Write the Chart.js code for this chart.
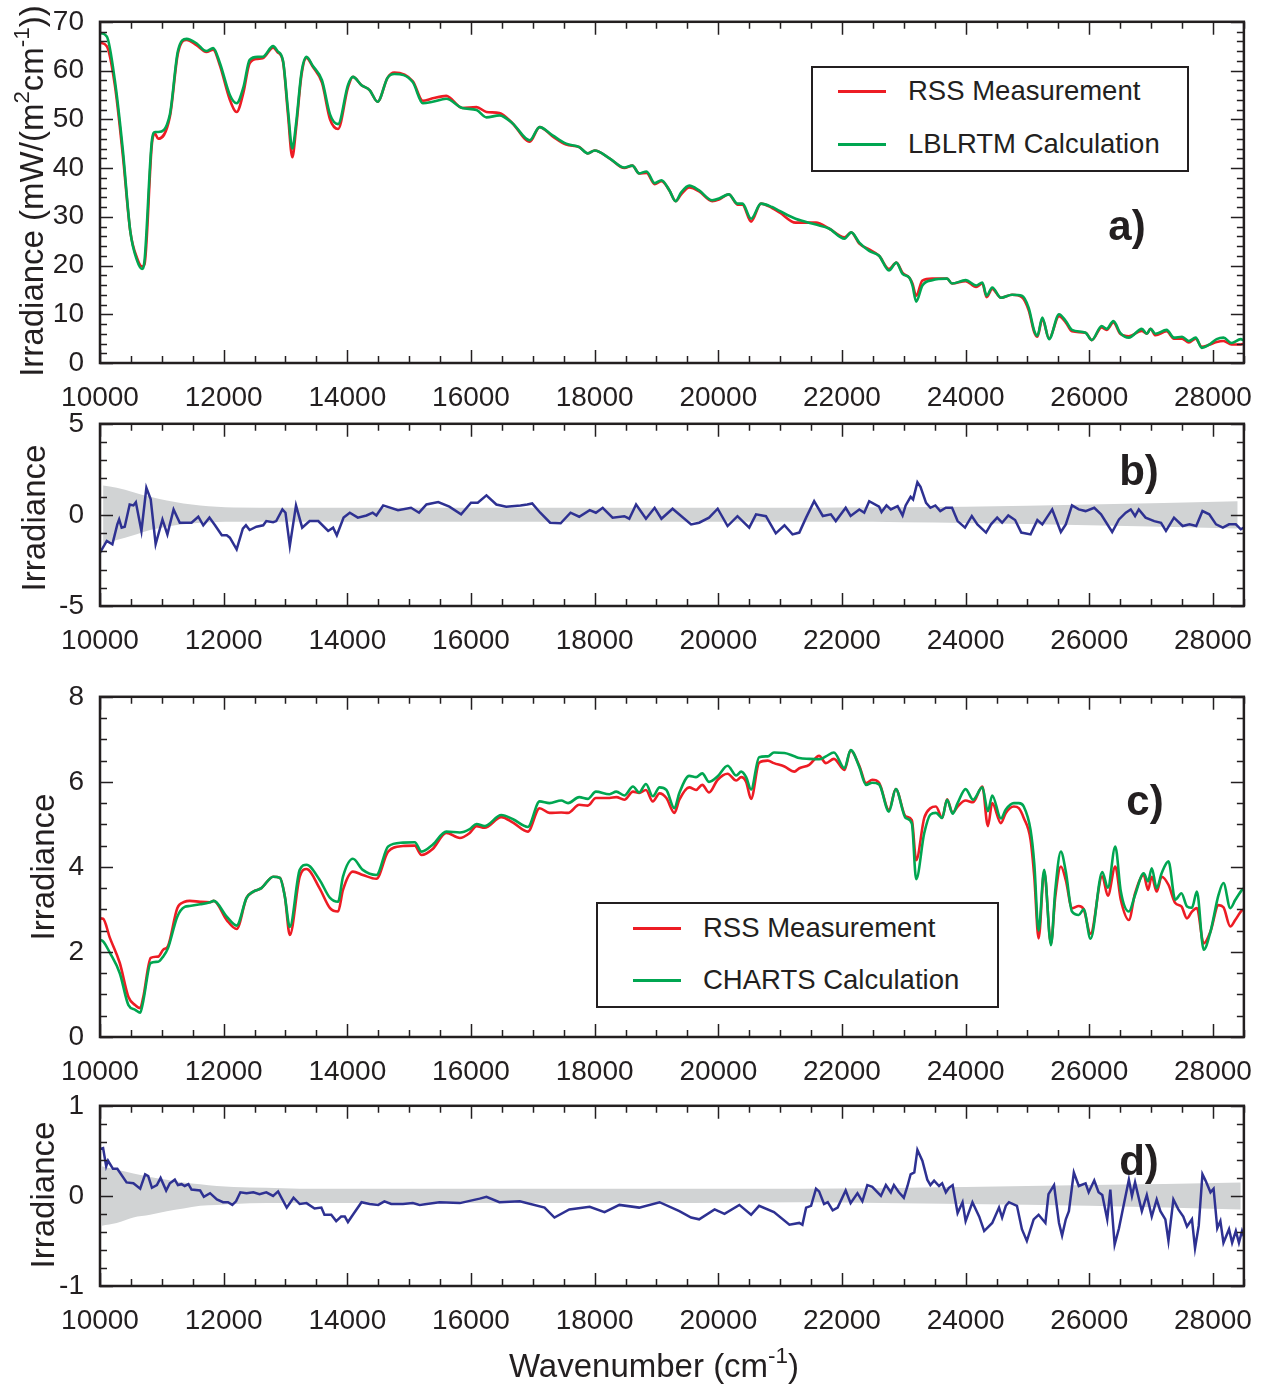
<!DOCTYPE html>
<html>
<head>
<meta charset="utf-8">
<title>RSS irradiance compared with LBLRTM and CHARTS</title>
<script src="https://cdn.jsdelivr.net/npm/chart.js@4.4.1/dist/chart.umd.min.js"></script>
<style>
  html, body { margin: 0; padding: 0; background: #fff; }
  #page { position: relative; width: 1263px; height: 1384px; overflow: hidden;
          font-family: 'Liberation Sans', Arial, Helvetica, sans-serif; color: #231f20; }
  canvas { position: absolute; left: 0; }
  .ytitle { position: absolute; white-space: nowrap; font-size: 33px; line-height: 1;
            transform: translate(-50%, -50%) rotate(-90deg); }
  .xtitle { position: absolute; white-space: nowrap; font-size: 33px; line-height: 1;
            transform: translate(-50%, -50%); }
  sup { font-size: 0.68em; line-height: 0; vertical-align: 0.62em; }
  .tag { position: absolute; font-weight: bold; font-size: 42px; line-height: 1;
         transform: translate(-50%, -50%); }
  .legend { position: absolute; border: 2px solid #231f20; box-sizing: border-box; background: #fff; }
  .legend .row { position: absolute; left: 0; right: 0; height: 30px; line-height: 30px; font-size: 27.5px; }
  .legend .swatch { position: absolute; top: 14px; width: 48px; height: 2.5px; }
  .legend .label { position: absolute; white-space: nowrap; }
</style>
</head>
<body>
<div id="page">
  <canvas id="chartA" width="1263" height="423" style="top:0px"></canvas>
  <canvas id="chartB" width="1263" height="258" style="top:404px"></canvas>
  <canvas id="chartC" width="1263" height="420" style="top:677px"></canvas>
  <canvas id="chartD" width="1263" height="260" style="top:1086px"></canvas>

  <div class="ytitle" style="left:31px; top:191px">Irradiance (mW/(m<sup>2</sup>cm<sup>-1</sup>))</div>
  <div class="ytitle" style="left:33px; top:518px">Irradiance</div>
  <div class="ytitle" style="left:42px; top:867px">Irradiance</div>
  <div class="ytitle" style="left:42px; top:1195px">Irradiance</div>
  <div class="xtitle" style="left:654px; top:1365px">Wavenumber (cm<sup>-1</sup>)</div>

  <div class="tag" style="left:1127px; top:226px">a)</div>
  <div class="tag" style="left:1139px; top:471px">b)</div>
  <div class="tag" style="left:1145px; top:801px">c)</div>
  <div class="tag" style="left:1139px; top:1161px">d)</div>

  <div class="legend" style="left:811px; top:66px; width:378px; height:106px">
    <div class="row" style="top:8px"><span class="swatch" style="left:25px; background:#ed1c24"></span><span class="label" style="left:95px">RSS Measurement</span></div>
    <div class="row" style="top:61px"><span class="swatch" style="left:25px; background:#00a651"></span><span class="label" style="left:95px">LBLRTM Calculation</span></div>
  </div>
  <div class="legend" style="left:596px; top:902px; width:403px; height:106px">
    <div class="row" style="top:9px"><span class="swatch" style="left:35px; background:#ed1c24"></span><span class="label" style="left:105px">RSS Measurement</span></div>
    <div class="row" style="top:61px"><span class="swatch" style="left:35px; background:#00a651"></span><span class="label" style="left:105px">CHARTS Calculation</span></div>
  </div>
</div>

<script>
// ---- x axis (shared by all panels) ----
const xMin = 10000, xMax = 28500;
const xTickLabels = [10000, 12000, 14000, 16000, 18000, 20000, 22000, 24000, 26000, 28000];

// ---- panel a: irradiance, RSS vs LBLRTM ----
const wnA = [10000, 10110, 10240, 10370, 10490, 10600, 10680, 10720, 10840, 10890, 10940, 11130,
  11260, 11400, 11560, 11720, 11830, 11940, 12100, 12210, 12320, 12420, 12550, 12630,
  12800, 12870, 12960, 13040, 13110, 13170, 13260, 13340, 13440, 13590, 13720, 13850,
  14010, 14090, 14230, 14360, 14490, 14650, 14760, 15060, 15220, 15380, 15600, 15860,
  16090, 16250, 16460, 16670, 16950, 17110, 17320, 17540, 17750, 17890, 18000, 18240,
  18480, 18610, 18720, 18840, 18970, 19080, 19210, 19310, 19400, 19530, 19690, 19900,
  20020, 20170, 20310, 20390, 20530, 20690, 20870, 20990, 21250, 21580, 21790, 22040,
  22150, 22280, 22440, 22600, 22760, 22880, 22980, 23090, 23140, 23200, 23300, 23460,
  23700, 23780, 24000, 24170, 24270, 24340, 24430, 24570, 24750, 24910, 25020, 25110,
  25160, 25240, 25350, 25510, 25620, 25720, 25940, 26040, 26200, 26280, 26390, 26500,
  26640, 26850, 26930, 26990, 27070, 27250, 27370, 27500, 27610, 27720, 27820, 27930,
  28060, 28170, 28300, 28450, 28500];
const rssA = [65.7, 65, 57, 42.5, 27, 21.5, 19.8, 20.3, 45, 47, 46, 50.5,
  63.5, 66.3, 65.2, 63.8, 64.3, 61, 54, 51.5, 55.5, 61.5, 62.4, 62.5,
  64.7, 63.8, 61.8, 51, 42.2, 48, 59.2, 62.6, 60.8, 57.5, 50, 48,
  56.5, 58.7, 57, 56, 53.6, 58.5, 59.6, 57.8, 53.8, 54.3, 54.8, 52.3,
  52.5, 51.5, 51.3, 49.2, 45.4, 48.4, 46.5, 44.8, 44.3, 43, 43.6, 42,
  40, 40.5, 38.9, 39, 36.7, 37.3, 35.4, 33.2, 34.6, 36, 35.2, 33.2,
  33.6, 34.6, 32.5, 32.5, 29, 32.7, 31.8, 30.9, 28.8, 28.8, 27.6, 25.8,
  26.8, 24.5, 23.3, 22, 19.3, 20.6, 18.5, 17.5, 16.3, 13.8, 16.9, 17.3,
  17.3, 16.3, 16.8, 15.6, 16.3, 13.5, 15.2, 13.4, 14, 13.5, 10.8, 6.3,
  5.4, 9, 5, 9.6, 8.3, 6.5, 6.2, 4.7, 7.3, 6.8, 8.3, 6,
  5.5, 6.6, 6, 7, 5.7, 6.5, 5, 5, 4.2, 5, 3.3, 3.7,
  4.3, 4.5, 3.8, 3.8, 4];
const lblrtmA = [67.7, 67, 58, 43.6, 27, 21, 19.3, 21, 45.7, 47.4, 47.4, 51,
  64, 66.5, 65.6, 64, 64.6, 61.5, 55, 53.3, 56.6, 62.2, 62.8, 62.8,
  65, 64, 62, 52, 44, 49, 59.7, 62.8, 61, 58, 51, 49,
  57, 58.7, 57, 56, 53.6, 58.5, 59.3, 57.6, 53.3, 53.6, 54.2, 52.3,
  51.9, 50.4, 50.8, 49.2, 45.7, 48.4, 46.7, 45, 44.3, 43, 43.6, 42,
  40.1, 40.5, 38.9, 39.3, 36.9, 37.5, 35.4, 33.2, 35, 36.4, 35.4, 33.4,
  33.8, 34.6, 32.7, 32.7, 29.6, 32.7, 32, 31.2, 29.6, 28.4, 27.6, 25.5,
  26.8, 24.7, 23, 22, 19, 20.6, 18.3, 17.5, 15.9, 12.6, 15.9, 17,
  17.3, 16.3, 17, 15.9, 16.5, 13.8, 15.5, 13.4, 14, 13.8, 11.3, 6.6,
  5.6, 9.3, 4.9, 10, 8.6, 6.8, 6.2, 4.7, 7.6, 7, 8.6, 6.2,
  5.2, 7, 6, 7, 6, 6.8, 5.2, 5.4, 4.5, 5.2, 3.1, 3.7,
  4.9, 5.2, 4.1, 4.9, 4.6];
const yTicksA = [0, 10, 20, 30, 40, 50, 60, 70];

// ---- panel b: difference RSS - LBLRTM with uncertainty band ----
const wnB = [10000, 10110, 10200, 10280, 10310, 10350, 10400, 10480, 10540, 10580, 10670, 10750,
  10820, 10900, 11010, 11090, 11190, 11290, 11400, 11480, 11590, 11670, 11770, 11860,
  11970, 12050, 12100, 12210, 12310, 12360, 12420, 12530, 12640, 12690, 12800, 12850,
  12950, 13000, 13070, 13170, 13270, 13390, 13530, 13690, 13770, 13830, 13940, 14040,
  14170, 14310, 14410, 14470, 14580, 14820, 15030, 15160, 15280, 15470, 15650, 15840,
  16000, 16110, 16250, 16410, 16570, 16800, 16910, 16990, 17120, 17280, 17450, 17610,
  17750, 17920, 18020, 18130, 18290, 18480, 18560, 18670, 18830, 18970, 19080, 19260,
  19560, 19690, 19850, 19990, 20150, 20310, 20500, 20610, 20770, 20930, 21070, 21200,
  21310, 21420, 21550, 21690, 21820, 21900, 22060, 22140, 22280, 22360, 22440, 22600,
  22640, 22720, 22790, 22900, 22980, 23030, 23110, 23150, 23220, 23270, 23360, 23430,
  23510, 23590, 23680, 23780, 23870, 23990, 24100, 24190, 24330, 24410, 24510, 24590,
  24690, 24800, 24900, 25050, 25160, 25240, 25400, 25540, 25620, 25720, 25830, 25940,
  26080, 26190, 26370, 26480, 26590, 26670, 26740, 26800, 26910, 27050, 27160, 27240,
  27370, 27510, 27620, 27730, 27830, 27940, 28050, 28160, 28260, 28370, 28450, 28500];
const diffB = [-2.07, -1.43, -1.61, -0.52, -0.25, -0.7, -0.65, 0.57, 0.52, 0.7, -0.88, 1.49,
  0.85, -1.61, -0.25, -1.07, 0.3, -0.43, -0.43, -0.43, -0.1, -0.57, -0.15, -0.57,
  -1.12, -1.12, -1.25, -1.89, -0.75, -0.57, -0.83, -0.65, -0.57, -0.34, -0.4, -0.34,
  0.3, 0.12, -1.7, 0.52, -0.7, -0.34, -0.34, -0.88, -0.7, -1.12, -0.15, 0.12,
  -0.15, -0.03, 0.12, -0.03, 0.52, 0.26, 0.39, 0.12, 0.57, 0.7, 0.45, 0.03,
  0.67, 0.67, 1.07, 0.57, 0.45, 0.52, 0.57, 0.63, 0.12, -0.43, -0.46, 0.12,
  -0.1, 0.26, 0.12, 0.39, -0.15, -0.07, -0.21, 0.57, -0.21, 0.39, -0.21, 0.34,
  -0.52, -0.43, -0.15, 0.34, -0.61, -0.07, -0.7, 0.03, -0.07, -1.01, -0.57, -1.07,
  -0.97, -0.15, 0.75, -0.06, 0.03, -0.34, 0.39, -0.06, 0.3, 0.12, 0.75, 0.45,
  0.16, 0.52, 0.3, 0.48, -0.03, 0.52, 0.99, 0.85, 1.79, 1.54, 0.66, 0.39,
  0.52, 0.21, 0.39, 0.39, -0.34, -0.7, -0.06, -0.52, -0.97, -0.52, -0.15, -0.43,
  -0.03, -0.28, -0.97, -1.07, -0.28, -0.52, 0.3, -0.94, -0.52, 0.52, 0.3, 0.21,
  0.39, 0.03, -0.94, -0.25, 0.12, 0.3, -0.06, 0.3, -0.15, -0.34, -0.43, -0.88,
  -0.15, -0.61, -0.52, -0.61, 0.21, 0.03, -0.52, -0.7, -0.52, -0.52, -0.79, -0.7];
const wnBandB = [10050, 10270, 10540, 10810, 11080, 11350, 11620, 11890, 12160, 13000, 15000,
  17000, 19000, 21000, 22000, 24000, 26000, 28400];
const bandBUpper = [1.61, 1.49, 1.25, 0.99, 0.79, 0.63, 0.52, 0.45, 0.41, 0.39, 0.39,
  0.39, 0.39, 0.39, 0.4, 0.45, 0.57, 0.75];
const bandBLower = [-1.61, -1.38, -1.12, -0.83, -0.65, -0.52, -0.43, -0.39, -0.38, -0.38, -0.38,
  -0.38, -0.38, -0.38, -0.38, -0.45, -0.57, -0.75];
const yTicksB = [-5, 0, 5];

// ---- panel c: irradiance, RSS vs CHARTS ----
const wnC = [10000, 10050, 10160, 10320, 10460, 10570, 10650, 10700, 10820, 10940, 11020, 11100,
  11250, 11370, 11450, 11620, 11780, 11840, 12050, 12210, 12370, 12480, 12610, 12800,
  12910, 12990, 13070, 13230, 13340, 13550, 13720, 13850, 13930, 14090, 14250, 14470,
  14660, 14900, 15090, 15200, 15380, 15600, 15820, 15980, 16090, 16220, 16490, 16680,
  16920, 17110, 17270, 17460, 17570, 17750, 17890, 18020, 18240, 18350, 18480, 18620,
  18720, 18830, 18940, 19050, 19160, 19290, 19370, 19530, 19640, 19740, 19850, 19990,
  20150, 20290, 20370, 20450, 20530, 20660, 20800, 20900, 21070, 21230, 21310, 21470,
  21630, 21740, 21870, 22040, 22140, 22280, 22390, 22490, 22600, 22760, 22870, 23030,
  23130, 23200, 23330, 23430, 23520, 23620, 23700, 23790, 23870, 24000, 24120, 24270,
  24360, 24430, 24570, 24650, 24780, 24860, 24940, 25050, 25110, 25180, 25270, 25380,
  25450, 25540, 25620, 25720, 25830, 25910, 26020, 26210, 26300, 26420, 26510, 26640,
  26740, 26880, 26950, 27010, 27090, 27170, 27280, 27390, 27490, 27580, 27660, 27740,
  27850, 27960, 28090, 28170, 28280, 28360, 28470, 28500];
const rssC = [2.79, 2.78, 2.33, 1.74, 0.94, 0.75, 0.68, 0.94, 1.86, 1.89, 2.05, 2.14,
  3.03, 3.18, 3.2, 3.18, 3.17, 3.2, 2.75, 2.54, 3.27, 3.42, 3.5, 3.77,
  3.74, 3.3, 2.4, 3.77, 3.95, 3.5, 3.03, 2.95, 3.46, 3.89, 3.81, 3.72,
  4.36, 4.49, 4.5, 4.28, 4.42, 4.8, 4.68, 4.8, 4.96, 4.92, 5.17, 5.04,
  4.83, 5.38, 5.27, 5.28, 5.27, 5.46, 5.44, 5.62, 5.62, 5.64, 5.58, 5.77,
  5.74, 5.81, 5.54, 5.73, 5.62, 5.27, 5.58, 5.87, 5.81, 5.93, 5.75, 6.05,
  6.19, 6.03, 6.11, 6.0, 5.6, 6.45, 6.5, 6.44, 6.36, 6.24, 6.32, 6.4,
  6.61, 6.44, 6.54, 6.28, 6.74, 6.38, 5.97, 6.05, 5.98, 5.34, 5.83, 5.19,
  5.1, 4.16, 5.15, 5.38, 5.42, 5.15, 5.59, 5.27, 5.42, 5.56, 5.52, 5.89,
  4.96, 5.5, 5.03, 5.27, 5.42, 5.38, 5.15, 4.64, 3.77, 2.32, 3.89, 2.2,
  3.3, 4.01, 3.69, 3.03, 3.08, 3.0, 2.43, 3.78, 3.32, 4.01, 3.22, 2.75,
  3.38, 3.81, 3.46, 3.77, 3.42, 3.77, 3.58, 3.15, 3.07, 2.79, 2.95, 3.03,
  2.2, 2.48, 3.1, 3.05, 2.6, 2.75, 2.98, 3.0];
const chartsC = [2.28, 2.25, 1.98, 1.5, 0.75, 0.64, 0.57, 0.85, 1.74, 1.77, 1.89, 2.09,
  2.83, 3.06, 3.08, 3.12, 3.17, 3.2, 2.83, 2.62, 3.27, 3.42, 3.5, 3.77,
  3.74, 3.3, 2.59, 3.93, 4.05, 3.7, 3.27, 3.18, 3.77, 4.19, 3.93, 3.81,
  4.48, 4.57, 4.58, 4.36, 4.52, 4.83, 4.81, 4.89, 5.01, 4.96, 5.22, 5.12,
  4.94, 5.54, 5.5, 5.56, 5.5, 5.64, 5.6, 5.77, 5.71, 5.77, 5.68, 5.89,
  5.75, 5.95, 5.66, 5.87, 5.81, 5.38, 5.74, 6.14, 6.11, 6.2, 6.0, 6.13,
  6.38, 6.15, 6.24, 6.11, 5.82, 6.58, 6.6, 6.69, 6.68, 6.6, 6.56, 6.54,
  6.53, 6.6, 6.69, 6.32, 6.75, 6.35, 5.93, 5.98, 5.94, 5.3, 5.83, 5.15,
  5.02, 3.71, 4.79, 5.23, 5.27, 5.15, 5.58, 5.25, 5.5, 5.83, 5.58, 5.87,
  5.31, 5.68, 5.14, 5.35, 5.5, 5.5, 5.42, 4.87, 4.08, 2.5, 3.93, 2.16,
  3.46, 4.36, 3.89, 2.95, 2.87, 3.0, 2.31, 3.88, 3.51, 4.48, 3.42, 2.95,
  3.34, 3.85, 3.66, 3.97, 3.5, 3.85, 4.13, 3.23, 3.38, 3.07, 3.04, 3.42,
  2.05, 2.48, 3.34, 3.62, 3.03, 3.22, 3.46, 3.5];
const yTicksC = [0, 2, 4, 6, 8];

// ---- panel d: difference RSS - CHARTS with uncertainty band ----
const wnD = [10000, 10050, 10100, 10130, 10210, 10280, 10430, 10540, 10650, 10730, 10780, 10840,
  10920, 10980, 11070, 11130, 11210, 11260, 11320, 11370, 11430, 11480, 11620, 11680,
  11780, 11890, 11990, 12070, 12140, 12200, 12270, 12370, 12480, 12580, 12690, 12800,
  12880, 13020, 13130, 13230, 13340, 13470, 13580, 13630, 13740, 13820, 13900, 13960,
  14010, 14090, 14230, 14360, 14500, 14600, 14710, 14900, 15060, 15170, 15490, 15820,
  16140, 16250, 16460, 16790, 17190, 17350, 17590, 17920, 18160, 18400, 18720, 19050,
  19370, 19560, 19690, 19940, 20100, 20340, 20530, 20660, 20900, 21150, 21310, 21360,
  21420, 21500, 21580, 21630, 21710, 21770, 21850, 21930, 22060, 22140, 22250, 22330,
  22410, 22490, 22630, 22710, 22790, 22840, 22920, 23000, 23060, 23110, 23170, 23220,
  23300, 23380, 23430, 23490, 23570, 23620, 23680, 23730, 23790, 23870, 23950, 24000,
  24110, 24220, 24300, 24430, 24540, 24590, 24650, 24700, 24830, 24910, 24990, 25100,
  25180, 25290, 25340, 25430, 25510, 25560, 25620, 25670, 25750, 25830, 25940, 25990,
  26080, 26150, 26210, 26290, 26340, 26410, 26480, 26530, 26640, 26690, 26740, 26850,
  26930, 27010, 27090, 27150, 27230, 27280, 27360, 27440, 27520, 27580, 27660, 27710,
  27770, 27830, 27880, 27960, 28010, 28070, 28120, 28170, 28260, 28310, 28370, 28420,
  28470, 28500];
const diffD = [0.52, 0.53, 0.33, 0.39, 0.3, 0.3, 0.15, 0.14, 0.08, 0.24, 0.22, 0.09,
  0.12, 0.2, 0.06, 0.14, 0.18, 0.12, 0.13, 0.11, 0.13, 0.07, 0.06, -0.01,
  0.03, -0.04, -0.07, -0.07, -0.1, -0.06, 0.04, 0.03, 0.04, 0.02, 0.04, 0,
  0.05, -0.13, -0.02, -0.09, -0.08, -0.14, -0.13, -0.21, -0.21, -0.28, -0.23, -0.23,
  -0.29, -0.21, -0.07, -0.09, -0.1, -0.06, -0.09, -0.09, -0.08, -0.1, -0.07, -0.08,
  -0.03, -0.01, -0.07, -0.06, -0.13, -0.24, -0.15, -0.12, -0.18, -0.1, -0.13, -0.07,
  -0.17, -0.24, -0.26, -0.15, -0.2, -0.1, -0.21, -0.11, -0.18, -0.32, -0.3, -0.32,
  -0.13, -0.11, 0.08, 0.05, -0.09, -0.07, -0.16, -0.13, 0.06, -0.08, 0.03, -0.06,
  0.12, 0.1, 0, 0.12, 0.04, 0.12, 0.04, -0.02, 0.11, 0.24, 0.26, 0.51,
  0.39, 0.18, 0.12, 0.17, 0.11, 0.14, 0.04, 0.09, 0.12, -0.19, -0.07, -0.28,
  -0.07, -0.23, -0.39, -0.3, -0.13, -0.24, -0.11, -0.07, -0.11, -0.37, -0.5, -0.26,
  -0.21, -0.3, 0.02, 0.12, -0.3, -0.44, -0.26, -0.17, 0.26, 0.11, 0.14, 0.04,
  0.17, 0.04, 0.01, -0.26, 0.07, -0.54, -0.36, -0.19, 0.18, 0, 0.15, -0.17,
  0.01, -0.23, -0.04, -0.17, -0.26, -0.5, -0.04, -0.15, -0.23, -0.34, -0.26, -0.58,
  -0.33, 0.24, 0.17, 0.04, 0.08, -0.36, -0.28, -0.52, -0.37, -0.52, -0.39, -0.52,
  -0.39, -0.45];
const wnBandD = [10030, 10270, 10540, 10810, 11080, 11350, 11620, 11890, 12160, 12690, 13230,
  16000, 19000, 21310, 24000, 26000, 28450];
const bandDUpper = [0.33, 0.29, 0.25, 0.21, 0.18, 0.15, 0.13, 0.11, 0.1, 0.09, 0.08,
  0.08, 0.08, 0.08, 0.1, 0.12, 0.15];
const bandDLower = [-0.33, -0.3, -0.24, -0.21, -0.17, -0.14, -0.11, -0.1, -0.09, -0.08, -0.08,
  -0.08, -0.08, -0.07, -0.09, -0.11, -0.15];
const yTicksD = [-1, 0, 1];

// ---- look ----
const INK = '#231f20';
const RED = '#ed1c24', GREEN = '#00a651', BLUE = '#2e3192', BAND = '#d1d3d4';
const FONT = "'Liberation Sans', Arial, Helvetica, sans-serif";

const pts = (xs, ys) => xs.map((x, i) => ({ x, y: ys[i] }));

/* frame round the plot plus inward ticks on all four sides */
const frameTicks = {
  id: 'frameTicks',
  afterDatasetsDraw(chart, args, o) {
    const { ctx, chartArea: a, scales: { x, y } } = chart;
    ctx.save();
    ctx.strokeStyle = INK;
    ctx.lineWidth = 1.5;
    ctx.beginPath();
    const nx = Math.round((xMax - xMin) / 500);
    for (let i = 0; i <= nx; i++) {
      const v = xMin + i * 500;
      const px = Math.round(x.getPixelForValue(v)) + 0.5;
      const len = v % 2000 === 0 ? 13 : 7;
      ctx.moveTo(px, a.bottom); ctx.lineTo(px, a.bottom - len);
      ctx.moveTo(px, a.top); ctx.lineTo(px, a.top + len);
    }
    const ny = Math.round((o.max - o.min) / o.minor);
    for (let i = 0; i <= ny; i++) {
      const v = o.min + i * o.minor;
      const r = v / o.major;
      const len = Math.abs(r - Math.round(r)) < 1e-6 ? 13 : 7;
      const py = Math.round(y.getPixelForValue(v)) + 0.5;
      ctx.moveTo(a.left, py); ctx.lineTo(a.left + len, py);
      ctx.moveTo(a.right, py); ctx.lineTo(a.right - len, py);
    }
    ctx.stroke();
    ctx.lineWidth = 2.5;
    ctx.strokeRect(a.left, a.top, a.right - a.left, a.bottom - a.top);
    ctx.restore();
  }
};

function config(datasets, yMin, yMax, yTicks, minor, major, xHeight) {
  return {
    type: 'line',
    data: { datasets },
    plugins: [frameTicks],
    options: {
      responsive: false,
      maintainAspectRatio: false,
      animation: false,
      events: [],
      devicePixelRatio: 1,
      layout: { padding: { top: 4, right: 4, left: 0, bottom: 0 } },
      elements: { point: { radius: 0 } },
      plugins: {
        legend: { display: false },
        tooltip: { enabled: false },
        frameTicks: { min: yMin, max: yMax, minor, major }
      },
      scales: {
        x: {
          type: 'linear', min: xMin, max: xMax,
          grid: { display: false, drawTicks: false }, border: { display: false },
          afterBuildTicks: s => { s.ticks = xTickLabels.map(v => ({ value: v })); },
          afterFit: s => { s.height = xHeight; },
          ticks: { autoSkip: false, maxRotation: 0, padding: 18, color: INK,
                   font: { family: FONT, size: 28 }, callback: v => String(v) }
        },
        y: {
          type: 'linear', min: yMin, max: yMax,
          grid: { display: false, drawTicks: false }, border: { display: false },
          afterBuildTicks: s => { s.ticks = yTicks.map(v => ({ value: v })); },
          afterFit: s => { s.width = 100; },
          ticks: { autoSkip: false, padding: 16, color: INK,
                   font: { family: FONT, size: 28 }, callback: v => String(v) }
        }
      }
    }
  };
}

/* draw once, read where the plot area landed, then size/move the canvas so it sits on the target box */
function build(id, makeCfg, box) {
  const canvas = document.getElementById(id);
  let chart = new Chart(canvas, makeCfg());
  const ca = chart.chartArea, w = chart.width, h = chart.height;
  const padL = ca.left, padT = ca.top, padR = w - ca.right, padB = h - ca.bottom;
  chart.destroy();
  canvas.width = Math.round(padL + (box.right - box.left) + padR);
  canvas.height = Math.round(padT + (box.bottom - box.top) + padB);
  canvas.style.left = Math.round(box.left - padL) + 'px';
  canvas.style.top = Math.round(box.top - padT) + 'px';
  return new Chart(canvas, makeCfg());
}

const curve = (label, xs, ys, color, order) => ({
  label, data: pts(xs, ys), borderColor: color, borderWidth: 2.6,
  cubicInterpolationMode: 'monotone', fill: false, order
});
const diffLine = (label, xs, ys) => ({
  label, data: pts(xs, ys), borderColor: BLUE, borderWidth: 2.5,
  tension: 0, fill: false, order: 0
});
const band = (xs, up, lo) => ([
  { label: 'upper', data: pts(xs, up), borderWidth: 0, borderColor: 'transparent',
    backgroundColor: BAND, fill: '+1', cubicInterpolationMode: 'monotone', order: 2 },
  { label: 'lower', data: pts(xs, lo), borderWidth: 0, borderColor: 'transparent',
    fill: false, cubicInterpolationMode: 'monotone', order: 3 }
]);

build('chartA', () => config([
  curve('RSS Measurement', wnA, rssA, RED, 1),
  curve('LBLRTM Calculation', wnA, lblrtmA, GREEN, 0)
], 0, 70, yTicksA, 2, 10, 60), { left: 100, right: 1244, top: 22, bottom: 363 });

build('chartB', () => config([
  diffLine('RSS - LBLRTM', wnB, diffB),
  ...band(wnBandB, bandBUpper, bandBLower)
], -5, 5, yTicksB, 1, 5, 56), { left: 100, right: 1244, top: 424, bottom: 606 });

build('chartC', () => config([
  curve('RSS Measurement', wnC, rssC, RED, 1),
  curve('CHARTS Calculation', wnC, chartsC, GREEN, 0)
], 0, 8, yTicksC, 0.5, 2, 60), { left: 100, right: 1244, top: 697, bottom: 1037 });

build('chartD', () => config([
  diffLine('RSS - CHARTS', wnD, diffD),
  ...band(wnBandD, bandDUpper, bandDLower)
], -1, 1, yTicksD, 0.2, 1, 60), { left: 100, right: 1244, top: 1106, bottom: 1286 });
</script>
</body>
</html>
